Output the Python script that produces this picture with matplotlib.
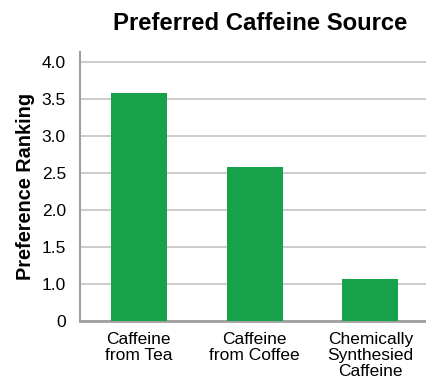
import matplotlib
matplotlib.use("Agg")
import matplotlib.pyplot as plt

# ── Data ───────────────────────────────────────────────────────────────────
categories = ["Caffeine\nfrom Tea", "Caffeine\nfrom Coffee", "Chemically\nSynthesied\nCaffeine"]
ranking = [3.58, 2.58, 1.07]

# axis starts at 0.5 but is labelled "0" (broken axis in the original)
ytick_vals = [0.5, 1.0, 1.5, 2.0, 2.5, 3.0, 3.5, 4.0]
ytick_labels = ["0", "1.0", "1.5", "2.0", "2.5", "3.0", "3.5", "4.0"]

# ── Plot ───────────────────────────────────────────────────────────────────
plt.rcParams.update({
    "font.family": ["Liberation Sans", "DejaVu Sans"],
})

green = "#17a14b"
grid_grey = "#c4c4c4"
spine_grey = "#a0a0a0"

fig = plt.figure(figsize=(4.27, 3.81), dpi=100)
ax = fig.add_axes([0.187, 0.1575, 0.813, 0.706])

x = list(range(len(categories)))
ax.bar(x, ranking, width=0.485, color=green, zorder=3)

ax.set_xlim(-0.51, 2.49)
ax.set_ylim(0.5, 4.135)
ax.set_yticks(ytick_vals)
ax.set_yticklabels(ytick_labels, fontsize=12.5)
ax.set_xticks(x)
ax.set_xticklabels(categories, fontsize=12.5, linespacing=1.08)
ax.tick_params(axis="y", length=0, pad=10)
ax.tick_params(axis="x", length=0, pad=8)

ax.grid(axis="y", color=grid_grey, linewidth=1.2, zorder=0)
ax.set_axisbelow(True)
for s in ("top", "right"):
    ax.spines[s].set_visible(False)
ax.spines["left"].set_color(spine_grey)
ax.spines["left"].set_linewidth(1.5)
ax.spines["bottom"].set_color(spine_grey)
ax.spines["bottom"].set_linewidth(2.0)

ax.set_ylabel("Preference Ranking", fontsize=14.3, fontweight="bold", labelpad=5)
fig.text(0.609, 0.921, "Preferred Caffeine Source", ha="center", va="baseline",
         fontsize=17.2, fontweight="bold")

fig.savefig("out.png", dpi=100)
